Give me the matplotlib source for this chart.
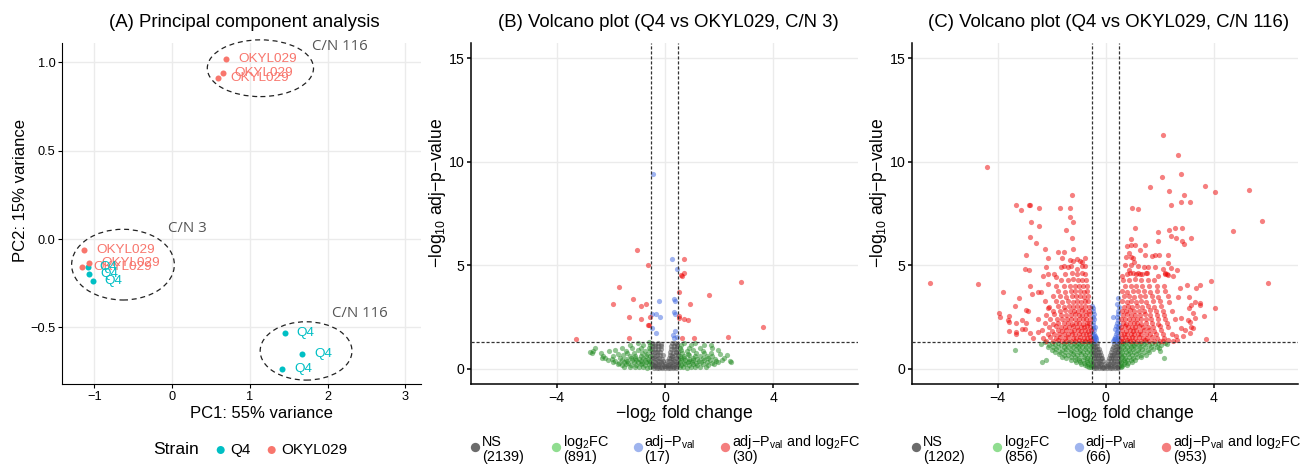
import matplotlib
matplotlib.use('Agg')
import matplotlib.pyplot as plt
from matplotlib.patches import Ellipse
import math

plt.rcParams['font.family'] = ['Liberation Sans', 'DejaVu Sans']
plt.rcParams['mathtext.fontset'] = 'custom'
plt.rcParams['mathtext.rm'] = 'Liberation Sans'
plt.rcParams['mathtext.it'] = 'Liberation Sans:italic'
plt.rcParams['mathtext.default'] = 'regular'

# ---------------- PCA data ----------------
strains = ['Q4', 'OKYL029']
strain_colors = ['#00BFC4', '#F8766D']
pca_q4_pc1 = [-1.085, -1.072, -1.017, 1.45, 1.673, 1.42]
pca_q4_pc2 = [-0.160, -0.200, -0.240, -0.534, -0.649, -0.734]
pca_ok_pc1 = [-1.13, -1.064, -1.158, 0.695, 0.652, 0.596]
pca_ok_pc2 = [-0.062, -0.134, -0.157, 1.02, 0.94, 0.913]
group_labels = ['C/N 116', 'C/N 3', 'C/N 116']
group_label_x = [1.80, -0.055, 2.05]
group_label_y = [1.088, 0.06, -0.424]
ellipse_cx = [1.136, -0.63, 1.723]
ellipse_cy = [0.966, -0.145, -0.633]
ellipse_w = [1.365, 1.32, 1.18]
ellipse_h = [0.321, 0.40, 0.33]

# ---------------- Volcano B (C/N 3) ----------------
b_counts = [2139, 891, 17, 30]
b_ns = [(-0.4,0.04),(-0.3,0.02),(-0.2,0.05),(-0.1,0.01),(0.0,0.03),(0.1,0.02),(0.2,0.05),(0.3,0.03),(0.4,0.04),
        (-0.45,0.13),(-0.35,0.11),(-0.25,0.14),(-0.15,0.10),(-0.05,0.12),(0.05,0.14),(0.15,0.11),(0.25,0.13),(0.35,0.10),(0.45,0.12),
        (-0.48,0.23),(-0.4,0.20),(-0.3,0.24),(-0.2,0.21),(-0.1,0.22),(0.0,0.25),(0.1,0.20),(0.2,0.23),(0.3,0.21),(0.4,0.24),(0.48,0.22),
        (-0.45,0.36),(-0.35,0.33),(-0.25,0.37),(-0.15,0.34),(-0.06,0.36),(0.06,0.35),(0.15,0.37),(0.25,0.33),(0.35,0.36),(0.45,0.34),
        (-0.48,0.5),(-0.4,0.52),(-0.3,0.48),(-0.2,0.51),(-0.1,0.49),(0.14,0.5),(0.22,0.52),(0.3,0.48),(0.4,0.51),(0.48,0.49),
        (-0.47,0.66),(-0.38,0.63),(-0.28,0.67),(-0.18,0.64),(-0.08,0.65),(0.18,0.66),(0.28,0.63),(0.38,0.67),(0.47,0.64),
        (-0.48,0.8),(-0.38,0.82),(-0.28,0.79),(-0.17,0.81),(0.2,0.8),(0.3,0.78),(0.4,0.82),(0.48,0.8),
        (-0.46,0.96),(-0.36,0.93),(-0.26,0.97),(-0.15,0.94),(0.22,0.95),(0.32,0.97),(0.42,0.93),
        (-0.48,1.1),(-0.38,1.12),(-0.27,1.08),(-0.15,1.11),(0.24,1.09),(0.34,1.12),(0.44,1.1),
        (-0.47,1.23),(-0.37,1.2),(-0.26,1.24),(-0.14,1.21),(0.27,1.22),(0.37,1.24),(0.46,1.2)]
b_fc = [(-1.5,0.1),(-1.3,0.07),(-1.1,0.09),(-0.95,0.06),(-0.8,0.08),(-0.65,0.05),(-0.55,0.07),(0.55,0.06),(0.65,0.08),(0.8,0.05),(0.95,0.09),(1.1,0.07),(1.3,0.1),(1.5,0.08),
        (-1.75,0.22),(-1.6,0.19),(-1.45,0.21),(-1.25,0.18),(-1.05,0.2),(-0.9,0.22),(-0.72,0.19),(-0.58,0.21),(0.6,0.2),(0.75,0.22),(0.9,0.18),(1.05,0.21),(1.2,0.19),(1.4,0.22),(1.6,0.2),(1.8,0.23),
        (-1.9,0.31),(-1.7,0.29),(-1.5,0.32),(-1.35,0.28),(-1.15,0.3),(-1.0,0.33),(-0.85,0.29),(-0.68,0.31),(-0.55,0.3),(0.55,0.31),(0.7,0.28),(0.85,0.32),(1.0,0.3),(1.15,0.29),(1.35,0.31),(1.55,0.33),(1.75,0.29),(1.95,0.31),
        (-2.1,0.42),(-1.85,0.39),(-1.6,0.41),(-1.4,0.38),(-1.2,0.4),(-1.05,0.43),(-0.9,0.39),(-0.75,0.41),(-0.6,0.38),(0.6,0.4),(0.75,0.42),(0.9,0.38),(1.05,0.41),(1.25,0.39),(1.45,0.42),(1.65,0.4),(1.9,0.38),(2.1,0.41),
        (-2.2,0.52),(-1.95,0.49),(-1.65,0.51),(-1.45,0.48),(-1.25,0.5),(-1.1,0.53),(-0.95,0.49),(-0.8,0.51),(-0.62,0.48),(0.58,0.5),(0.72,0.52),(0.88,0.48),(1.05,0.51),(1.2,0.49),(1.4,0.52),(1.6,0.5),(1.85,0.47),(2.2,0.5),
        (-2.3,0.63),(-1.9,0.6),(-1.55,0.64),(-1.3,0.61),(-1.1,0.62),(-0.9,0.6),(-0.7,0.63),(-0.55,0.61),(0.55,0.62),(0.7,0.6),(0.9,0.64),(1.1,0.61),(1.3,0.63),(1.55,0.6),(1.75,0.62),(2.3,0.64),
        (-2.7,0.74),(-2.35,0.76),(-1.75,0.73),(-1.4,0.77),(-1.15,0.74),(-0.85,0.76),(-0.65,0.73),(0.62,0.75),(0.85,0.73),(1.15,0.77),(1.45,0.74),(1.7,0.76),(2.05,0.73),
        (-2.65,0.87),(-1.85,0.9),(-1.45,0.86),(-1.0,0.89),(-0.75,0.87),(-0.56,0.9),(0.6,0.88),(0.8,0.86),(1.05,0.9),(1.4,0.87),(1.95,0.89),
        (-2.6,1.0),(-1.6,1.02),(-1.2,0.98),(-0.9,1.01),(-0.6,0.99),(0.55,1.0),(0.9,1.02),(1.3,0.98),(1.75,1.01),
        (-1.3,1.15),(-0.8,1.13),(-0.55,1.16),(0.6,1.14),(0.95,1.16),(1.45,1.13),
        (-1.0,1.25),(-0.6,1.27),(0.7,1.24),(1.1,1.26),
        (2.45,0.3),(-2.75,0.8),(-2.05,0.85),(2.4,0.37),(1.72,1.15),(-2.34,0.53)]
b_p = [(-0.44,9.40),(0.28,5.30),(0.44,4.80),(-0.23,3.27),(0.33,3.37),(0.38,3.29),(-0.48,2.65),(-0.33,2.66),(-0.17,2.51),
       (0.33,2.74),(0.38,2.66),(-0.47,1.98),(-0.33,1.71),(0.38,1.84),(0.30,1.63),(0.33,1.47),(0.44,1.55)]
b_both = [(-1.02,5.75),(-0.64,5.03),(-1.70,3.95),(-1.17,3.38),(-1.92,3.14),(-0.87,3.03),(-0.69,3.14),(-1.33,2.50),(-0.89,2.40),
          (-0.59,2.13),(-0.62,2.10),(-3.29,1.44),(-1.32,1.47),(-0.55,2.51),(0.71,5.32),(0.59,4.55),(0.71,4.61),(0.63,4.50),
          (0.52,3.69),(0.92,3.13),(1.62,3.55),(2.82,4.21),(0.51,2.53),(0.70,2.40),(0.84,2.37),(3.62,2.00),(2.32,1.53),
          (1.08,1.50),(0.63,1.50),(0.52,2.45)]

# ---------------- Volcano C (C/N 116) ----------------
c_counts = [1202, 856, 66, 953]
c_ns = [(-0.45,0.04),(-0.35,0.02),(-0.25,0.05),(-0.15,0.01),(-0.05,0.03),(0.05,0.02),(0.15,0.04),(0.25,0.03),(0.35,0.05),(0.45,0.02),
        (-0.48,0.13),(-0.4,0.11),(-0.3,0.14),(-0.2,0.12),(-0.1,0.10),(0.0,0.13),(0.1,0.11),(0.2,0.14),(0.3,0.12),(0.4,0.10),(0.48,0.13),
        (-0.46,0.25),(-0.36,0.23),(-0.26,0.26),(-0.16,0.24),(-0.08,0.22),(0.08,0.25),(0.16,0.23),(0.26,0.26),(0.36,0.24),(0.46,0.22),
        (-0.48,0.38),(-0.4,0.36),(-0.3,0.39),(-0.2,0.37),(-0.1,0.38),(0.09,0.37),(0.2,0.39),(0.3,0.36),(0.4,0.38),(0.48,0.37),
        (-0.45,0.52),(-0.36,0.5),(-0.27,0.53),(-0.19,0.51),(-0.12,0.52),(0.13,0.5),(0.19,0.53),(0.27,0.51),(0.36,0.52),(0.45,0.5),
        (-0.48,0.66),(-0.4,0.64),(-0.32,0.67),(-0.24,0.65),(-0.16,0.66),(0.17,0.65),(0.24,0.67),(0.32,0.64),(0.4,0.66),(0.48,0.65),
        (-0.46,0.8),(-0.38,0.78),(-0.3,0.81),(-0.21,0.79),(0.21,0.8),(0.3,0.78),(0.38,0.81),(0.46,0.79),
        (-0.48,0.94),(-0.41,0.92),(-0.33,0.95),(-0.24,0.93),(0.24,0.94),(0.33,0.92),(0.41,0.95),(0.48,0.93),
        (-0.46,1.08),(-0.39,1.06),(-0.31,1.09),(0.28,1.07),(0.39,1.08),(0.46,1.06),
        (-0.48,1.22),(-0.42,1.2),(-0.34,1.23),(0.32,1.21),(0.42,1.23),(0.48,1.2)]
c_fc = [(-0.55,0.1),(-0.62,0.08),(-0.7,0.12),
        (-0.55,0.2),(-0.65,0.22),(-0.78,0.19),(-0.9,0.21),
        (-0.56,0.3),(-0.68,0.32),(-0.8,0.29),(-0.95,0.31),(-1.1,0.33),
        (-0.58,0.42),(-0.7,0.4),(-0.85,0.43),(-1.0,0.41),(-1.15,0.44),(-1.3,0.42),
        (-0.55,0.55),(-0.68,0.53),(-0.82,0.56),(-0.97,0.54),(-1.12,0.57),(-1.28,0.55),(-1.45,0.53),(-1.6,0.56),
        (-0.6,0.68),(-0.75,0.66),(-0.9,0.69),(-1.05,0.67),(-1.22,0.7),(-1.38,0.68),(-1.55,0.66),(-1.72,0.69),
        (-0.55,0.8),(-0.7,0.82),(-0.85,0.79),(-1.0,0.81),(-1.16,0.8),(-1.32,0.83),(-1.5,0.8),(-1.68,0.82),(-1.88,0.79),
        (-0.62,0.92),(-0.78,0.94),(-0.95,0.91),(-1.1,0.93),(-1.27,0.92),(-1.45,0.95),(-1.62,0.92),(-1.82,0.94),(-2.0,0.91),
        (-0.56,1.04),(-0.72,1.06),(-0.88,1.03),(-1.04,1.05),(-1.2,1.04),(-1.38,1.07),(-1.56,1.04),(-1.75,1.06),(-1.95,1.03),(-2.15,1.05),
        (-0.6,1.15),(-0.77,1.17),(-0.94,1.14),(-1.1,1.16),(-1.28,1.15),(-1.46,1.18),(-1.66,1.15),(-1.86,1.17),(-2.1,1.14),
        (-0.55,1.25),(-0.7,1.27),(-0.86,1.24),(-1.02,1.26),(-1.18,1.25),(-1.36,1.27),(-1.55,1.24),(-1.75,1.26),(-1.98,1.25),(-2.25,1.27),
        (-3.34,0.9),(-2.36,0.34),(-2.2,0.42),(-2.4,1.2),
        (0.55,0.1),(0.62,0.12),
        (0.56,0.2),(0.66,0.22),(0.78,0.19),
        (0.58,0.3),(0.7,0.32),(0.83,0.29),(0.96,0.31),
        (0.55,0.42),(0.67,0.4),(0.8,0.43),(0.94,0.41),(1.08,0.44),
        (0.6,0.55),(0.73,0.53),(0.87,0.56),(1.01,0.54),(1.16,0.57),(1.3,0.55),
        (0.56,0.68),(0.69,0.66),(0.83,0.69),(0.98,0.67),(1.13,0.7),(1.3,0.68),(1.48,0.66),
        (0.62,0.8),(0.76,0.82),(0.91,0.79),(1.06,0.81),(1.22,0.8),(1.4,0.83),(1.6,0.8),
        (0.57,0.92),(0.71,0.94),(0.86,0.91),(1.02,0.93),(1.18,0.92),(1.35,0.95),(1.55,0.92),(1.75,0.94),
        (0.63,1.04),(0.78,1.06),(0.94,1.03),(1.1,1.05),(1.27,1.04),(1.46,1.07),(1.66,1.04),(1.88,1.06),
        (0.58,1.15),(0.73,1.17),(0.89,1.14),(1.05,1.16),(1.22,1.15),(1.4,1.18),(1.6,1.15),(1.82,1.17),(2.05,1.14),
        (0.65,1.25),(0.8,1.27),(0.96,1.24),(1.13,1.26),(1.31,1.25),(1.5,1.27),(1.7,1.24),(1.92,1.26),(2.2,1.25),
        (2.16,0.5),(2.25,1.19),(1.97,1.0),(2.0,0.85)]
c_p = [(-0.45,1.35),(-0.42,1.42),(-0.48,1.5),(-0.4,1.55),(-0.46,1.62),(-0.43,1.7),(-0.49,1.78),(-0.44,1.85),(-0.47,1.95),
       (-0.41,2.02),(-0.46,2.12),(-0.48,2.25),(-0.44,2.38),(-0.47,2.5),(-0.45,2.65),(-0.48,2.8),(-0.46,2.95),(-0.49,3.05),
       (-0.37,1.4),(-0.39,1.6),(-0.36,1.5),
       (0.4,1.35),(0.36,1.42),(0.44,1.5),(0.33,1.55),(0.47,1.6),(0.38,1.68),(0.42,1.75),(0.46,1.85),(0.35,1.9),(0.44,2.0),
       (0.48,2.1),(0.4,2.2),(0.46,2.35),(0.43,2.5),(0.47,2.65),(0.45,2.8),(0.48,3.0),(0.42,3.15),(0.45,3.4),(0.3,1.45),
       (0.38,2.05),(0.26,1.35),(0.49,1.4),(0.27,2.51)]
c_both_sparse = [(-4.37,9.76),(-1.26,8.38),(-3.30,7.93),(-2.83,7.90),(-2.81,7.92),(-3.13,7.65),(-2.46,7.77),(-1.70,7.78),(-1.32,7.75),
                 (-1.33,7.32),(-1.20,7.11),(-2.78,7.11),(-2.47,6.88),(-1.46,6.70),(-2.80,6.35),(-1.25,6.30),(-2.58,6.09),(-2.23,5.78),
                 (-1.22,5.80),(-2.96,5.49),(-2.14,5.37),(-1.77,5.64),(-1.53,5.62),(-1.62,5.35),(-1.31,5.25),(-1.05,5.29),(-0.75,5.35),
                 (-0.89,5.16),(-2.99,4.80),(-2.84,4.78),(-2.19,4.92),(-1.66,4.92),(-1.38,4.93),(-1.07,4.82),(-0.86,4.96),(-0.76,4.96),
                 (-1.30,4.97),(-1.55,4.97),(-2.31,4.48),(-2.15,4.56),(-1.90,4.57),(-1.84,4.45),
                 (-6.51,4.14),(-4.73,4.08),(-3.80,3.71),(-3.93,2.68),(-3.92,2.51),(-3.57,2.55),(-3.56,2.27),(-3.56,1.81),(-3.22,3.40),
                 (-3.36,3.03),(-3.30,1.68),(-3.30,2.22),(-3.11,2.35),(-2.95,2.22),(-3.11,1.90),(-2.99,1.90),(-2.93,2.84),(-2.88,2.78),
                 (-2.79,3.98),(-2.74,3.60),(-2.49,3.71),(-2.41,3.70),(-2.79,1.71),(-2.49,2.39),(-2.49,1.79),(-2.24,3.25),(-2.14,2.93),
                 (-2.12,4.09),(-2.70,1.47),(-3.6,2.35),(-3.3,1.78),
                 (2.12,11.31),(2.68,10.33),(2.78,9.41),(2.07,9.25),(1.64,8.77),(2.33,8.57),(3.67,8.85),(4.05,8.52),(5.31,8.65),
                 (2.89,8.38),(2.79,8.07),(3.11,8.07),(2.41,7.93),(0.96,7.75),(1.20,7.73),(5.79,7.14),(4.70,6.67),(1.09,6.79),
                 (1.93,6.59),(2.33,6.72),(2.57,6.80),(2.81,6.79),(2.40,6.40),(2.59,6.33),(3.16,6.32),(2.81,6.19),(2.89,6.03),
                 (1.93,6.17),(0.94,6.28),(0.77,5.95),(0.95,6.0),(1.07,6.0),(1.44,5.98),(1.26,5.74),(0.86,5.61),(0.74,5.38),
                 (0.93,5.38),(1.0,5.36),(1.06,5.14),(1.44,5.50),(1.70,5.45),(1.83,5.50),(1.98,5.50),(2.31,5.50),(2.31,5.12),
                 (2.42,4.88),(2.63,4.79),(1.40,4.90),(1.57,4.90),(1.83,4.90),(2.12,4.82),(0.86,4.76),(0.91,4.64),(1.12,4.6),
                 (1.18,4.62),(1.36,4.6),(1.54,4.62),(2.19,4.6),(2.25,4.58),(2.31,4.55),(1.93,4.5),(2.49,4.5),(0.61,4.47),
                 (6.01,4.14),(3.89,4.22),(4.05,2.92),(3.64,2.56),(3.70,1.44),(3.48,4.05),(3.33,3.89),(3.01,4.05),(2.74,3.89),
                 (2.68,3.45),(3.09,3.45),(3.30,3.24),(3.48,3.16),(3.09,2.92),(3.30,2.44),(3.11,2.27),(2.80,2.44),(2.80,1.95),
                 (3.17,2.0),(3.11,1.71),(2.86,1.58),(2.62,1.39),(2.19,4.61),(3.17,3.08),(3.48,3.08),(3.23,2.68),(3.05,2.35),
                 (3.23,1.95),(2.93,1.87),(2.6,1.6),(2.5,1.33),(2.1,1.33)]
c_both_left = [(-2.2,1.36),(-1.95,1.33),(-1.75,1.37),(-1.6,1.34),(-1.45,1.36),(-1.3,1.33),(-1.15,1.35),(-1.0,1.37),(-0.88,1.33),(-0.75,1.36),(-0.62,1.34),(-0.54,1.37),
               (-2.3,1.5),(-2.05,1.53),(-1.85,1.48),(-1.68,1.51),(-1.52,1.49),(-1.38,1.52),(-1.22,1.5),(-1.08,1.47),(-0.95,1.52),(-0.82,1.5),(-0.7,1.48),(-0.58,1.51),
               (-2.15,1.68),(-1.9,1.66),(-1.72,1.7),(-1.55,1.67),(-1.4,1.69),(-1.25,1.66),(-1.12,1.7),(-0.98,1.67),(-0.85,1.69),(-0.72,1.66),(-0.6,1.7),
               (-2.35,1.85),(-2.0,1.83),(-1.78,1.87),(-1.6,1.84),(-1.45,1.86),(-1.3,1.83),(-1.16,1.87),(-1.02,1.85),(-0.9,1.83),(-0.78,1.86),(-0.65,1.84),(-0.55,1.87),
               (-2.1,2.02),(-1.85,2.04),(-1.66,2.0),(-1.5,2.03),(-1.35,2.01),(-1.2,2.04),(-1.05,2.0),(-0.92,2.03),(-0.8,2.01),(-0.68,2.04),(-0.57,2.02),
               (-2.25,2.2),(-1.95,2.18),(-1.75,2.22),(-1.55,2.19),(-1.4,2.21),(-1.25,2.18),(-1.1,2.22),(-0.97,2.2),(-0.84,2.18),(-0.7,2.21),(-0.6,2.19),
               (-2.05,2.4),(-1.8,2.38),(-1.6,2.42),(-1.42,2.39),(-1.28,2.41),(-1.12,2.38),(-0.98,2.42),(-0.85,2.4),(-0.72,2.38),(-0.58,2.41),
               (-2.2,2.6),(-1.9,2.62),(-1.65,2.58),(-1.48,2.61),(-1.3,2.59),(-1.15,2.62),(-1.0,2.58),(-0.87,2.61),(-0.73,2.59),(-0.6,2.62),
               (-1.95,2.8),(-1.7,2.78),(-1.5,2.82),(-1.33,2.79),(-1.18,2.81),(-1.02,2.78),(-0.88,2.82),(-0.75,2.8),(-0.6,2.78),
               (-2.1,3.0),(-1.78,3.02),(-1.55,2.98),(-1.35,3.01),(-1.2,2.99),(-1.05,3.02),(-0.9,2.98),(-0.76,3.01),(-0.62,2.99),
               (-1.85,3.25),(-1.6,3.23),(-1.4,3.27),(-1.22,3.24),(-1.06,3.26),(-0.92,3.23),(-0.78,3.27),(-0.64,3.25),
               (-1.95,3.5),(-1.68,3.52),(-1.45,3.48),(-1.25,3.51),(-1.1,3.49),(-0.95,3.52),(-0.8,3.48),(-0.66,3.51),
               (-1.75,3.75),(-1.5,3.73),(-1.3,3.77),(-1.12,3.74),(-0.96,3.76),(-0.82,3.73),(-0.68,3.77),
               (-1.85,4.0),(-1.55,4.02),(-1.32,3.98),(-1.15,4.01),(-0.98,3.99),(-0.84,4.02),(-0.7,3.98),
               (-1.65,4.3),(-1.4,4.28),(-1.2,4.32),(-1.02,4.29),(-0.86,4.31),(-0.72,4.28),
               (-1.5,4.6),(-1.25,4.62),(-1.05,4.58),(-0.88,4.61),(-0.75,4.59),(-1.2,5.2),(-0.95,5.22)]
c_both_right = [(0.55,1.36),(0.65,1.33),(0.78,1.37),(0.9,1.34),(1.02,1.36),(1.15,1.33),(1.3,1.35),(1.45,1.37),(1.6,1.33),(1.78,1.36),(2.0,1.34),(2.3,1.37),
                (0.6,1.5),(0.72,1.53),(0.85,1.48),(0.97,1.51),(1.1,1.49),(1.22,1.52),(1.38,1.5),(1.52,1.47),(1.7,1.52),(1.9,1.5),(2.15,1.48),
                (0.55,1.68),(0.68,1.66),(0.8,1.7),(0.93,1.67),(1.05,1.69),(1.18,1.66),(1.32,1.7),(1.48,1.67),(1.65,1.69),(1.85,1.66),(2.1,1.7),(2.45,1.67),
                (0.62,1.85),(0.75,1.83),(0.88,1.87),(1.0,1.84),(1.13,1.86),(1.27,1.83),(1.42,1.87),(1.6,1.85),(1.8,1.83),(2.05,1.86),
                (0.57,2.02),(0.7,2.04),(0.83,2.0),(0.96,2.03),(1.08,2.01),(1.22,2.04),(1.37,2.0),(1.55,2.03),(1.75,2.01),(2.0,2.04),(2.3,2.02),
                (0.63,2.2),(0.76,2.18),(0.9,2.22),(1.03,2.19),(1.17,2.21),(1.32,2.18),(1.5,2.22),(1.7,2.2),(1.95,2.18),(2.25,2.21),
                (0.58,2.4),(0.72,2.38),(0.86,2.42),(1.0,2.39),(1.14,2.41),(1.3,2.38),(1.48,2.42),(1.68,2.4),(1.92,2.38),(2.2,2.41),(2.55,2.39),
                (0.65,2.6),(0.8,2.62),(0.95,2.58),(1.1,2.61),(1.27,2.59),(1.45,2.62),(1.65,2.58),(1.9,2.61),(2.15,2.59),
                (0.6,2.8),(0.75,2.78),(0.9,2.82),(1.06,2.79),(1.22,2.81),(1.4,2.78),(1.62,2.82),(1.85,2.8),(2.1,2.78),(2.45,2.81),
                (0.66,3.0),(0.82,3.02),(0.98,2.98),(1.15,3.01),(1.33,2.99),(1.55,3.02),(1.8,2.98),(2.05,3.01),
                (0.6,3.25),(0.77,3.23),(0.94,3.27),(1.12,3.24),(1.3,3.26),(1.5,3.23),(1.75,3.27),(2.0,3.25),(2.35,3.23),
                (0.68,3.5),(0.86,3.52),(1.05,3.48),(1.25,3.51),(1.45,3.49),(1.7,3.52),(1.95,3.48),(2.3,3.51),
                (0.62,3.75),(0.8,3.73),(1.0,3.77),(1.2,3.74),(1.42,3.76),(1.65,3.73),(1.9,3.77),(2.2,3.74),
                (0.72,4.0),(0.92,4.02),(1.12,3.98),(1.35,4.01),(1.6,3.99),(1.88,4.02),(2.15,3.98),
                (0.65,4.3),(0.85,4.28),(1.07,4.32),(1.3,4.29),(1.55,4.31),(1.8,4.28),
                (0.78,4.6),(1.0,4.62),(1.25,4.58),(1.5,4.61),(0.7,5.0),(0.95,5.02),(1.2,4.98)]
c_both = c_both_sparse + c_both_left + c_both_right

volcano_colors = ['#4D4D4D', '#228B22', '#4169E1', '#EE0000']
legend_key_colors = ['#6b6b6b', '#90DD90', '#9FB4EE', '#F47E7E']
legend_names = ['NS', 'log$_2$FC', 'adj\u2212P$_{val}$', 'adj\u2212P$_{val}$ and log$_2$FC']
fc_cutoff = 0.5
p_cutoff = 0.05

# ---------------- figure ----------------
W, H = 1300, 466
fig = plt.figure(figsize=(13, 4.66), dpi=100)

def px_axes(l, r, t, b):
    return fig.add_axes([l / W, 1 - b / H, (r - l) / W, (b - t) / H])

axA = px_axes(62.3, 421, 43.3, 384)
axB = px_axes(471.3, 857.7, 43.3, 384)
axC = px_axes(912.3, 1298.3, 43.3, 384)
ov = fig.add_axes([0, 0, 1, 1], zorder=-5)
ov.set_xlim(0, W); ov.set_ylim(H, 0); ov.axis('off')

def style(ax, lw, fs):
    for s in ['top', 'right']:
        ax.spines[s].set_visible(False)
    for s in ['left', 'bottom']:
        ax.spines[s].set_linewidth(lw)
        ax.spines[s].set_color('black')
    ax.grid(True, color='#EBEBEB', lw=1.0)
    ax.set_axisbelow(True)
    ax.tick_params(length=3, width=lw, labelsize=fs, colors='black', pad=2)

# ----- Panel A -----
style(axA, 0.8, 9.2)
axA.set_xlim(-1.41, 3.20)
axA.set_ylim(-0.82, 1.107)
axA.set_xticks([-1, 0, 1, 2, 3])
axA.set_yticks([-0.5, 0.0, 0.5, 1.0])
axA.set_yticklabels(['\u22120.5', '0.0', '0.5', '1.0'])
axA.scatter(pca_q4_pc1, pca_q4_pc2, s=19, color=strain_colors[0], lw=0, zorder=3)
axA.scatter(pca_ok_pc1, pca_ok_pc2, s=19, color=strain_colors[1], lw=0, zorder=3)
for x, y in zip(pca_ok_pc1, pca_ok_pc2):
    axA.annotate(strains[1], (x, y), xytext=(8.5, 0), textcoords='offset points',
                 ha='left', va='center', fontsize=9.7, color=strain_colors[1], zorder=4)
for x, y in zip(pca_q4_pc1, pca_q4_pc2):
    axA.annotate(strains[0], (x, y), xytext=(8.5, 0), textcoords='offset points',
                 ha='left', va='center', fontsize=9.7, color=strain_colors[0], zorder=4)
for cx, cy, w, h in zip(ellipse_cx, ellipse_cy, ellipse_w, ellipse_h):
    axA.add_patch(Ellipse((cx, cy), w, h, fill=False, ec='#222222', lw=0.9,
                          ls=(0, (4, 3)), clip_on=False, zorder=2))
for lab, x, y in zip(group_labels, group_label_x, group_label_y):
    axA.text(x, y, lab, ha='left', va='center', fontsize=10.8, color='#555555',
             family=['Open Sans', 'DejaVu Sans'], clip_on=False)
ov.text(241.7 + 3, 22.7, '(A) Principal component analysis', ha='center', va='center', fontsize=13.4)
ov.text(261, 414, 'PC1: 55% variance', ha='center', va='center', fontsize=12)
ov.text(20.7, 190, 'PC2: 15% variance', ha='center', va='center', fontsize=12, rotation=90)
# legend A
ov.text(153, 450, 'Strain', ha='left', va='center', fontsize=12.6)
ov.scatter([220.7, 271.7], [450, 450], s=33, color=strain_colors, lw=0)
ov.text(230, 450, strains[0], ha='left', va='center', fontsize=11)
ov.text(281, 450, strains[1], ha='left', va='center', fontsize=11)

# ----- Volcano panels -----
def volcano(ax, groups, counts, title, left_px):
    style(ax, 1.1, 10.2)
    ax.set_xlim(-7.15, 7.12)
    ax.set_ylim(-0.74, 15.73)
    ax.set_xticks([-4, 0, 4])
    ax.set_yticks([0, 5, 10, 15])
    for pts, col in zip(groups, volcano_colors):
        xs, ys = zip(*pts)
        ax.scatter(xs, ys, s=14, color=col, alpha=0.5, lw=0, zorder=3)
    yc = -math.log10(p_cutoff)
    ax.axhline(yc, color='#333333', lw=0.9, ls=(0, (2.5, 1.5)), zorder=4)
    ax.axvline(-fc_cutoff, color='#333333', lw=0.9, ls=(0, (2.5, 1.5)), zorder=4)
    ax.axvline(fc_cutoff, color='#333333', lw=0.9, ls=(0, (2.5, 1.5)), zorder=4)
    axc = (left_px + left_px + 386.2) / 2
    ov.text(axc + 3.5, 22.7, title, ha='center', va='center', fontsize=13.4)
    ov.text(left_px + 212.7, 414, '\u2212log$_2$ fold change', ha='center', va='center', fontsize=12.7)
    ov.text(left_px - 34, 192.5, '\u2212log$_{10}$ adj\u2212p\u2212value', ha='center', va='center',
            fontsize=12.7, rotation=90)
    dot_off = [3.7, 84.7, 166.4, 253.7]
    txt_off = [11, 91.4, 173, 261]
    for i in range(4):
        ov.scatter([left_px + dot_off[i]], [447.3], s=45, color=legend_key_colors[i], lw=0)
        ov.text(left_px + txt_off[i], 441.7, legend_names[i], ha='left', va='center', fontsize=10.4)
        ov.text(left_px + txt_off[i], 457.3, '(%d)' % counts[i], ha='left', va='center', fontsize=10.4)

volcano(axB, [b_ns, b_fc, b_p, b_both], b_counts, '(B) Volcano plot (Q4 vs OKYL029, C/N 3)', 471.3)
volcano(axC, [c_ns, c_fc, c_p, c_both], c_counts, '(C) Volcano plot (Q4 vs OKYL029, C/N 116)', 912.3)

fig.savefig('out.png', dpi=100)
